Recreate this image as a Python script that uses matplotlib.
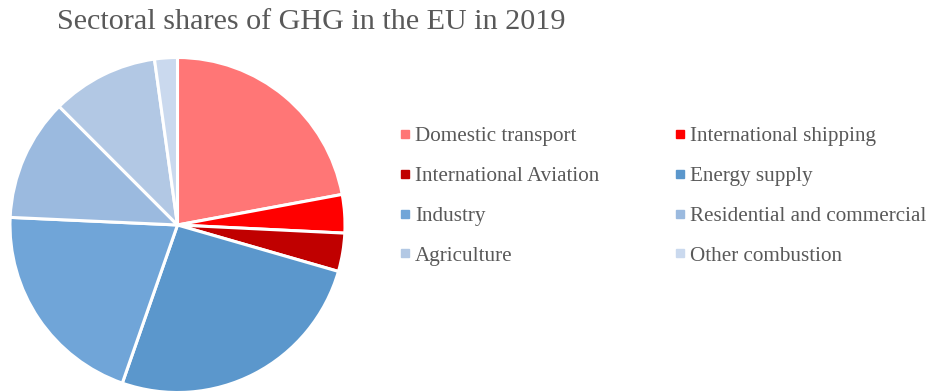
import matplotlib
matplotlib.use("Agg")
import matplotlib.pyplot as plt
from matplotlib.lines import Line2D

sectors = ["Domestic transport", "International shipping", "International Aviation",
           "Energy supply", "Industry", "Residential and commercial",
           "Agriculture", "Other combustion"]
shares = [22.1, 3.7, 3.7, 25.9, 20.4, 11.8, 10.3, 2.2]
colors = ["#FF7676", "#FF0000", "#C00000", "#5B97CC", "#70A5D8",
          "#9BBADF", "#B2C8E4", "#CAD9EE"]

plt.rcParams["font.family"] = ["Liberation Serif", "DejaVu Serif"]
text_color = "#595959"

fig = plt.figure(figsize=(9.3, 3.92), dpi=100)
ax = fig.add_axes([10 / 930, -0.5 / 392, 335 / 930, 335 / 392])
ax.pie(shares, colors=colors, startangle=90, counterclock=False,
       wedgeprops=dict(edgecolor="white", linewidth=2.2))
ax.set_xlim(-1.0, 1.0)
ax.set_ylim(-1.0, 1.0)
ax.set_aspect("equal")

fig.text(311 / 930, 1 - 22 / 392, "Sectoral shares of GHG in the EU in 2019",
         ha="center", va="center", fontsize=21.7, color=text_color)

handles = [Line2D([], [], marker="s", linestyle="none", markersize=6.2,
                  markerfacecolor=c, markeredgecolor=c) for c in colors]
# legend fills column-wise, so reorder to read row-wise
order = [0, 2, 4, 6, 1, 3, 5, 7]
leg = fig.legend([handles[i] for i in order], [sectors[i] for i in order],
                 ncol=2, frameon=False, loc="upper left",
                 bbox_to_anchor=(391 / 930, 1 - 118 / 392),
                 fontsize=15.2, handlelength=0.55, handletextpad=0.2,
                 columnspacing=3.55, labelspacing=0.95, borderaxespad=0)
for t in leg.get_texts():
    t.set_color(text_color)

fig.savefig("out.png", dpi=100)
